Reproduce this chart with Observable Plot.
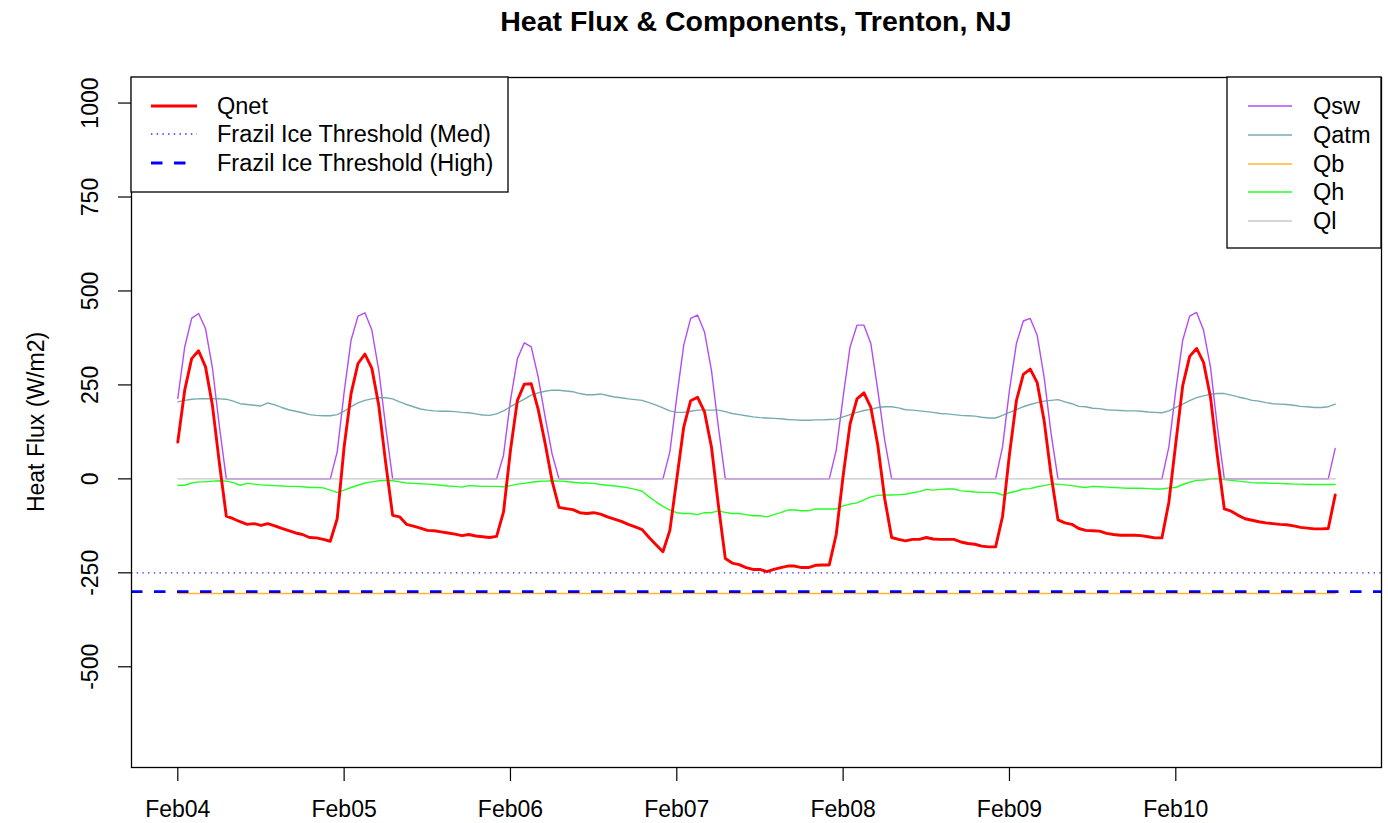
<!DOCTYPE html>
<html><head><meta charset="utf-8">
<script src="https://cdn.jsdelivr.net/npm/d3@7"></script>
<script src="https://cdn.jsdelivr.net/npm/@observablehq/plot@0.6"></script>
<style>
html,body{margin:0;padding:0;background:#fff;}
#wrap{position:relative;width:1388px;height:823px;font-family:"Liberation Sans",Arial,sans-serif;overflow:hidden;}
#title{position:absolute;left:131px;top:7px;width:1250px;text-align:center;font-size:28.5px;line-height:28px;font-weight:bold;color:#000;}
#chart{position:absolute;left:0;top:50px;}
</style></head><body>
<div id="wrap"><div id="title">Heat Flux &amp; Components, Trenton, NJ</div><div id="chart"></div></div>
<script>
// ---- data (hourly, starting Feb04 00:00) ----
const startDate = "2023-02-04T00:00:00Z";
const qsw = [
 214,351,427,440,400,295,140,0, 0,0,0,0,0,0,0,0,0,0,0,0,0,0, 0,72,
 230,369,433,442,396,289,138,0, 0,0,0,0,0,0,0,0,0,0,0,0,0,0, 0,63,
 209,320,362,351,271,165,67,0, 0,0,0,0,0,0,0,0,0,0,0,0,0,0, 0,72,
 218,356,427,436,391,289,138,0, 0,0,0,0,0,0,0,0,0,0,0,0,0,0, 0,76,
 218,351,409,409,360,236,103,0, 0,0,0,0,0,0,0,0,0,0,0,0,0,0, 0,85,
 236,360,420,427,382,271,121,0, 0,0,0,0,0,0,0,0,0,0,0,0,0,0, 0,85,
 236,369,433,443,396,298,138,0, 0,0,0,0,0,0,0,0,0,0,0,0,0,0, 0,81
];
const qatm = [
 205,209,212,213,213,213,213,212,207,200,198,196,194,202,197,190,184,180,176,171,169,168,168,171,
 180,192,202,209,213,216,216,213,205,198,192,186,183,181,180,180,179,177,176,173,170,169,173,181,
 192,202,212,223,229,233,236,236,234,232,227,224,224,226,222,218,216,213,211,209,203,196,189,181,
 177,177,180,183,183,183,183,179,174,171,168,165,163,162,161,160,158,157,156,156,157,157,158,159,
 165,171,177,182,185,190,192,192,189,184,183,181,179,177,174,173,171,169,168,167,164,162,162,169,
 177,184,192,198,203,207,209,211,205,200,193,192,188,187,184,183,182,181,181,180,178,177,176,181,
 190,199,208,216,221,225,227,227,223,218,214,209,207,203,200,199,198,196,193,192,190,190,192,199
];
const qh = [
 -17,-17,-11,-8,-8,-6,-5,-6,-10,-17,-12,-14,-16,-17,-18,-19,-20,-20,-21,-23,-23,-24,-30,-36,
 -30,-23,-17,-11,-8,-5,-4,-5,-8,-11,-12,-13,-14,-15,-17,-19,-20,-22,-18,-19,-20,-20,-20,-21,
 -18,-14,-12,-9,-7,-6,-5,-6,-7,-9,-11,-11,-12,-15,-17,-19,-21,-24,-28,-33,-48,-61,-73,-83,
 -90,-92,-92,-95,-90,-90,-85,-89,-92,-92,-95,-98,-98,-101,-95,-90,-83,-83,-85,-85,-80,-80,-80,-80,
 -72,-67,-64,-56,-48,-44,-43,-43,-42,-41,-37,-34,-28,-30,-28,-27,-27,-32,-33,-35,-36,-36,-37,-43,
 -37,-33,-27,-26,-21,-18,-14,-14,-16,-18,-21,-23,-20,-21,-22,-23,-24,-25,-25,-25,-26,-27,-27,-24,
 -23,-15,-9,-4,-3,0,1,-2,-4,-6,-8,-10,-11,-11,-12,-12,-13,-14,-14,-15,-15,-15,-15,-15
];
const qnet = [
 98,236,320,341,298,195,42,-99,-106,-114,-121,-119,-124,-119,-125,-132,-138,-144,-148,-156,-157,-161,-166,-106,
 85,227,307,332,294,195,42,-97,-101,-121,-126,-131,-137,-138,-141,-144,-147,-151,-148,-152,-154,-156,-153,-88,
 76,209,252,253,185,95,-5,-76,-79,-82,-90,-92,-90,-94,-101,-107,-113,-121,-128,-135,-156,-175,-194,-137,
 0,138,208,217,178,85,-70,-212,-224,-228,-236,-241,-241,-247,-241,-236,-232,-232,-236,-236,-230,-229,-229,-148,
 8,146,213,229,190,90,-53,-156,-161,-165,-161,-161,-156,-160,-161,-161,-161,-168,-172,-174,-179,-181,-181,-100,
 65,208,278,292,256,155,11,-109,-117,-121,-132,-137,-138,-139,-145,-148,-150,-150,-150,-151,-154,-157,-157,-62,
 95,248,326,347,310,218,61,-80,-86,-97,-106,-110,-114,-117,-119,-121,-122,-125,-129,-131,-133,-133,-132,-43
];
const qbHours = [0, 167];
const qbValues = [-305, -305];
const qlHours = [0, 167];
const qlValues = [0, 0];
const thresholdNames = ["Frazil Ice Threshold (Med)", "Frazil Ice Threshold (High)"];
const thresholdValues = [-250, -300];
const yTicks = [-500, -250, 0, 250, 500, 750, 1000];
const xTickLabels = ["Feb04","Feb05","Feb06","Feb07","Feb08","Feb09","Feb10"];
const yLimits = [-700, 1000];

// ---- styles ----
const col = {qnet:"#ff0000", qsw:"#a020f0", qatm:"#5f9ea0", qb:"#ffa500", qh:"#00ff00", ql:"#bebebe", thr:"#0000ff"};
const thin = 1.4, thick = 2.9;

const t0 = new Date(startDate).getTime();
const hourDate = h => new Date(t0 + h * 3600e3);
const rows = qnet.map((v, i) => ({t: hourDate(i), qnet: v, qsw: qsw[i], qatm: qatm[i], qh: qh[i]}));
const qbRows = qbHours.map((h, i) => ({t: hourDate(h), v: qbValues[i]}));
const qlRows = qlHours.map((h, i) => ({t: hourDate(h), v: qlValues[i]}));
const xTicks = xTickLabels.map((_, i) => hourDate(i * 24));

// R-style 4% axis extension
const n = qnet.length - 1;
const xpad = 0.04 * n;
const xDomain = [hourDate(-xpad), hourDate(n + xpad)];
const ypad = 0.04 * (yLimits[1] - yLimits[0]);
const yDomain = [yLimits[0] - ypad, yLimits[1] + ypad];
const fmt = d3.utcFormat("%b%d");

const chart = Plot.plot({
  width: 1388, height: 773,
  marginLeft: 131, marginRight: 7, marginTop: 27, marginBottom: 56,
  x: {type: "utc", domain: xDomain},
  y: {domain: yDomain},
  style: {fontFamily: "'Liberation Sans', Arial, sans-serif", fontSize: "23px", background: "white", color: "black", overflow: "visible"},
  marks: [
    Plot.line(rows, {x: "t", y: "qsw", stroke: col.qsw, strokeWidth: thin, strokeOpacity: 0.8}),
    Plot.line(rows, {x: "t", y: "qatm", stroke: col.qatm, strokeWidth: thin, strokeOpacity: 0.85}),
    Plot.line(qbRows, {x: "t", y: "v", stroke: col.qb, strokeWidth: thin, strokeOpacity: 0.8}),
    Plot.line(rows, {x: "t", y: "qh", stroke: col.qh, strokeWidth: thin, strokeOpacity: 0.85}),
    Plot.line(qlRows, {x: "t", y: "v", stroke: col.ql, strokeWidth: thin, strokeOpacity: 0.85}),
    Plot.line(rows, {x: "t", y: "qnet", stroke: col.qnet, strokeWidth: thick}),
    Plot.ruleY([thresholdValues[0]], {stroke: col.thr, strokeWidth: thin, strokeDasharray: "1.4,4.3", strokeOpacity: 0.85}),
    Plot.ruleY([thresholdValues[1]], {stroke: col.thr, strokeWidth: thick, strokeDasharray: "11.5,11.5"}),
    Plot.frame({stroke: "black", strokeWidth: 1.3}),
    Plot.axisX({ticks: xTicks, tickFormat: (d, i) => xTickLabels[i] ?? fmt(d), tickSize: 14, tickPadding: 19, label: null, strokeWidth: 1.2}),
    Plot.axisY({ticks: yTicks, tickFormat: () => "", tickSize: 13, label: null, strokeWidth: 1.2}),
    Plot.text(yTicks, {y: d => d, text: d => String(d), frameAnchor: "left", dx: -34, rotate: -90, lineAnchor: "bottom", textAnchor: "middle", fontSize: 23, fill: "black"})
  ]
});
document.getElementById("chart").appendChild(chart);

// ---- y axis label and legends ----
const svg = d3.select(chart);
svg.append("text")
  .attr("transform", "translate(44,372) rotate(-90)")
  .attr("text-anchor", "middle")
  .attr("font-size", 23).attr("fill", "black")
  .text("Heat Flux (W/m2)");

function legend(x, y, w, h, items, sx0, sx1, tx, rowY) {
  const g = svg.append("g").attr("text-anchor", "start");
  g.append("rect").attr("x", x).attr("y", y).attr("width", w).attr("height", h)
    .attr("fill", "white").attr("stroke", "black").attr("stroke-width", 1.3);
  items.forEach((it, i) => {
    const yy = rowY[i];
    g.append("line").attr("x1", sx0).attr("x2", sx1).attr("y1", yy).attr("y2", yy)
      .attr("stroke", it.color).attr("stroke-width", it.width)
      .attr("stroke-opacity", it.opacity ?? 1)
      .attr("stroke-dasharray", it.dash ?? null);
    g.append("text").attr("x", tx).attr("y", yy).attr("dy", "0.35em")
      .attr("text-anchor", "start")
      .attr("font-size", 23.5).attr("fill", "black").text(it.label);
  });
}
legend(131, 27, 377, 115, [
  {label: "Qnet", color: col.qnet, width: thick},
  {label: thresholdNames[0], color: col.thr, width: thin, dash: "1.4,4.3", opacity: 0.85},
  {label: thresholdNames[1], color: col.thr, width: thick, dash: "11.5,11.5"}
], 151, 197, 217, [56, 84, 113]);
legend(1227, 27, 154, 171, [
  {label: "Qsw", color: col.qsw, width: thin, opacity: 0.8},
  {label: "Qatm", color: col.qatm, width: thin, opacity: 0.85},
  {label: "Qb", color: col.qb, width: thin, opacity: 0.8},
  {label: "Qh", color: col.qh, width: thin, opacity: 0.85},
  {label: "Ql", color: col.ql, width: thin, opacity: 0.85}
], 1248, 1292, 1313, [56, 85, 114, 142, 171]);
</script>
</body></html>
